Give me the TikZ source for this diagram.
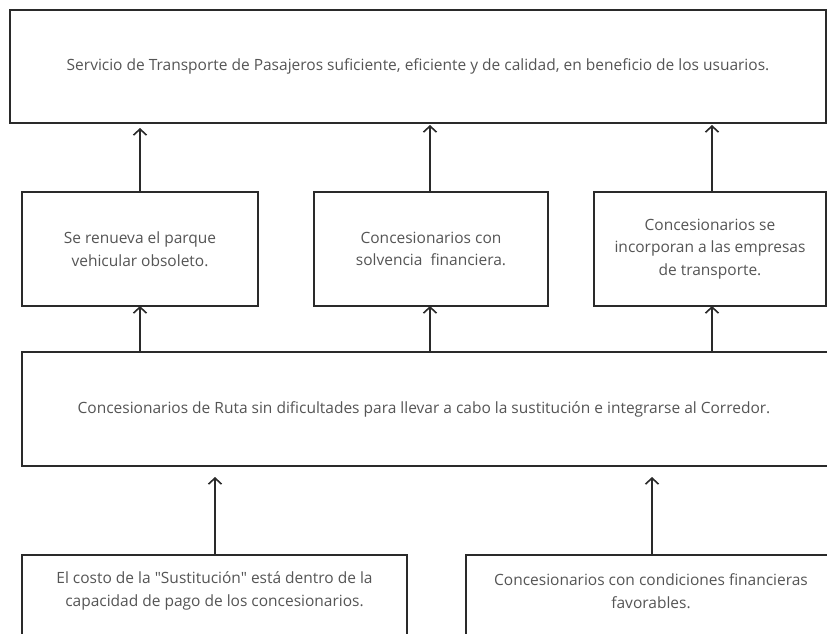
\documentclass[tikz,border=0pt]{standalone}
\usepackage{fontspec}
\setmainfont[Ligatures=TeXOff]{Open Sans}
\usetikzlibrary{arrows.meta}
\definecolor{txt}{HTML}{555555}
\definecolor{ln}{HTML}{2A2A2A}
\begin{document}
\begin{tikzpicture}[x=1pt,y=-1pt,
  box/.style={draw=ln, line width=1.6pt, rectangle, anchor=north west, inner sep=0pt, outer sep=0pt,
    font=\fontsize{15.5}{22.5}\selectfont, text=txt, align=center},
  lbl/.style={font=\fontsize{15.5}{22.5}\selectfont, text=txt, align=center, inner sep=0pt},
  arr/.style={draw=ln, line width=1.6pt, -{Straight Barb[length=6pt,width=13pt,line width=1.6pt]}}]
\useasboundingbox (0,0) rectangle (827,633);
\fill[white] (0,0) rectangle (827,633);
% top
\node[box, minimum width=816pt, minimum height=113pt] (top) at (10,10)
  {Servicio de Transporte de Pasajeros suficiente, eficiente y de calidad, en beneficio de los usuarios.};
% middle row
\node[box, minimum width=236pt, minimum height=114pt] (m1) at (22,192)
  {Se renueva el parque\\vehicular obsoleto.};
\node[box, minimum width=234pt, minimum height=114pt] (m2) at (314,192)
  {Concesionarios con\\solvencia\ \ financiera.};
\node[box, minimum width=232pt, minimum height=114pt] (m3) at (594,192)
  {Concesionarios se\\incorporan a las empresas\\de transporte.};
% wide
\node[box, minimum width=813pt, minimum height=114pt] (w) at (22,352) {};
\node[lbl] (wt) at (424,409) {Concesionarios de Ruta sin dificultades para llevar a cabo la sustitución e integrarse al Corredor.};
% bottom
\node[box, minimum width=385pt, minimum height=150pt] (b1) at (22,555) {};
\node[box, minimum width=374pt, minimum height=150pt] (b2) at (466,555) {};
\node[lbl] (b1t) at (214.5,591) {El costo de la "Sustitución" está dentro de la\\capacidad de pago de los concesionarios.};
\node[lbl] (b2t) at (651,591) {Concesionarios con condiciones financieras\\favorables.};
% coordinates for arrow tips
\coordinate (t1) at (140,128);
\coordinate (t2) at (430,125);
\coordinate (t3) at (712,125);
\coordinate (u1) at (215,477);
\coordinate (u2) at (652,477);
% arrows mid -> top
\draw[arr] (m1.north -| t1) -- (t1);
\draw[arr] (m2.north -| t2) -- (t2);
\draw[arr] (m3.north -| t3) -- (t3);
% arrows wide -> mid
\draw[arr] (w.north -| t1) -- (m1.south -| t1);
\draw[arr] (w.north -| t2) -- (m2.south -| t2);
\draw[arr] (w.north -| t3) -- (m3.south -| t3);
% arrows bottom -> wide
\draw[arr] (b1.north -| u1) -- (u1);
\draw[arr] (b2.north -| u2) -- (u2);
\end{tikzpicture}
\end{document}
